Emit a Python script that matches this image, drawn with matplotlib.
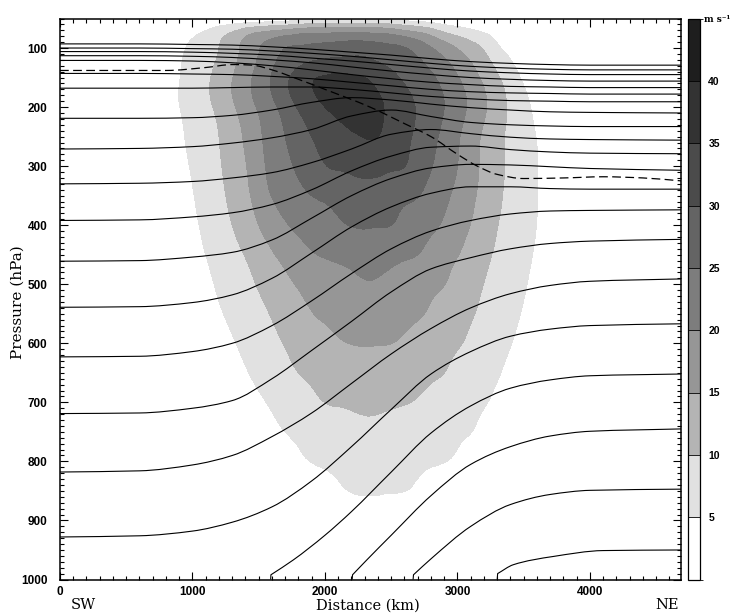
import numpy as np
import matplotlib
matplotlib.use("Agg")
import matplotlib.pyplot as plt
import matplotlib.tri as mtri
from matplotlib.path import Path
from matplotlib.patches import PathPatch
from matplotlib.colors import ListedColormap, BoundaryNorm
from matplotlib.ticker import MultipleLocator, FixedLocator

N = np.nan
# ---------------- wind speed (m s-1): contour crossings read along pressure rows -------------
pressure_rows = [50, 75, 100, 150, 200, 250, 300, 350, 400, 450, 500,
                 550, 600, 650, 700, 750, 800, 850, 900, 950, 1000]
peak_km = [2250, 2200, 2250, 2120, 2230, 2330, 2350, 2340, 2340, 2340, 2340,
           2340, 2340, 2340, 2340, 2340, 2340, 2340, 2340, 2340, 2340]
peak_speed = [4.2, 20.4, 27.9, 36.2, 39.0, 35.4, 31.7, 28.4, 25.4, 22.6, 19.95,
              17.7, 15.35, 13.2, 11.1, 9.1, 7.25, 5.4, 3.5, 2.0, 1.0]
left_5 = [N, 1065, 955, 910, 905, 945, 980, 1015, 1055, 1100, 1165,
          1235, 1330, 1425, 1550, 1700, 1875, 2150, N, N, N]
right_5 = [N, 3210, 3320, 3460, 3540, 3590, 3605, 3605, 3595, 3565, 3525,
           3475, 3410, 3330, 3235, 3115, 2935, 2640, N, N, N]
left_10 = [N, 1280, 1200, 1145, 1158, 1200, 1225, 1255, 1300, 1390, 1480,
           1580, 1680, 1800, 1990, N, N, N, N, N, N]
right_10 = [N, 2920, 3185, 3320, 3370, 3350, 3350, 3335, 3305, 3255, 3195,
            3130, 3040, 2900, 2660, N, N, N, N, N, N]
left_15 = [N, 1450, 1355, 1305, 1325, 1380, 1410, 1440, 1500, 1620, 1760,
           1910, 2150, N, N, N, N, N, N, N, N]
right_15 = [N, 2750, 2990, 3170, 3220, 3170, 3160, 3140, 3095, 3010, 2910,
            2760, 2520, N, N, N, N, N, N, N, N]
left_20 = [N, 1850, 1510, 1450, 1480, 1525, 1545, 1590, 1720, 1930, N,
           N, N, N, N, N, N, N, N, N, N]
right_20 = [N, 2450, 2810, 3010, 3070, 3020, 3000, 2950, 2870, 2700, N,
            N, N, N, N, N, N, N, N, N, N]
left_25 = [N, N, 1700, 1590, 1640, 1700, 1760, 1900, 2150, N, N,
           N, N, N, N, N, N, N, N, N, N]
right_25 = [N, N, 2630, 2840, 2900, 2860, 2810, 2720, 2500, N, N,
            N, N, N, N, N, N, N, N, N, N]
left_30 = [N, N, N, 1730, 1780, 1900, 2010, N, N, N, N,
           N, N, N, N, N, N, N, N, N, N]
right_30 = [N, N, N, 2560, 2680, 2660, 2610, N, N, N, N,
            N, N, N, N, N, N, N, N, N, N]
left_35 = [N, N, N, 1930, 2000, 2270, N, N, N, N, N,
           N, N, N, N, N, N, N, N, N, N]
right_35 = [N, N, N, 2300, 2450, 2400, N, N, N, N, N,
            N, N, N, N, N, N, N, N, N, N]

speed_levels = [0, 5, 10, 15, 20, 25, 30, 35, 40, 45]
speed_colors = ['#ffffff', '#e1e1e1', '#b4b4b4', '#969696', '#7d7d7d',
                '#646464', '#4b4b4b', '#333333', '#1e1e1e']

# ---------------- isentropes (pressure, hPa, at fixed distances) ----------------
iso_km = [0, 600, 1000, 1300, 1600, 1900, 2200, 2500, 2800, 3100, 3400, 3700, 4000, 4690]
iso_01 = [93, 93, 94, 95, 98, 102, 107, 112, 118, 123, 126, 128, 129, 129]
iso_02 = [100, 100, 101, 102, 105, 109, 114, 120, 126, 131, 134, 136, 137, 137]
iso_03 = [106, 106, 107, 109, 112, 117, 122, 128, 134, 139, 142, 144, 145, 145]
iso_04 = [113, 113, 114, 116, 120, 125, 132, 139, 145, 150, 153, 155, 156, 156]
iso_05 = [121, 121, 122, 125, 130, 137, 145, 152, 158, 162, 165, 166, 167, 167]
iso_06 = [143, 143, 144, 145, 148, 152, 158, 164, 170, 174, 176, 177, 178, 178]
iso_07 = [168, 168, 168, 167, 166, 166, 170, 176, 182, 186, 189, 190, 191, 191]
iso_08 = [219, 219, 218, 214, 205, 192, 184, 188, 195, 201, 205, 208, 209, 210]
iso_09 = [271, 270, 267, 261, 252, 238, 215, 205, 216, 226, 230, 232, 233, 233]
iso_10 = [330, 329, 326, 320, 311, 294, 271, 246, 238, 245, 251, 254, 255, 256]
iso_11 = [392, 391, 386, 379, 365, 340, 308, 283, 268, 266, 272, 276, 278, 279]
iso_12 = [461, 460, 454, 446, 425, 388, 350, 321, 303, 297, 298, 301, 304, 307]
iso_13 = [539, 538, 531, 518, 490, 447, 403, 369, 346, 335, 335, 338, 339, 339]
iso_14 = [623, 622, 614, 600, 570, 528, 482, 440, 410, 392, 381, 376, 375, 374]
iso_15 = [719, 718, 710, 697, 660, 612, 563, 513, 474, 455, 440, 431, 427, 424]
iso_16 = [818, 816, 806, 790, 758, 718, 668, 618, 575, 540, 516, 502, 495, 491]
iso_17 = [928, 926, 918, 903, 877, 833, 775, 712, 652, 614, 588, 576, 570, 567]
# isentropes that intersect the ground (first pair = short vertical stub at the ground)
iso_18_km = [1590, 1592, 1760, 2000, 2200, 2500, 2800, 3100, 3400, 3700, 4000, 4690]
iso_18_p = [1000, 992, 967, 925, 885, 818, 752, 706, 676, 662, 655, 652]
iso_19_km = [2205, 2208, 2315, 2500, 2800, 3100, 3400, 3700, 4000, 4690]
iso_19_p = [1000, 992, 967, 925, 858, 805, 775, 757, 749, 745]
iso_20_km = [2665, 2668, 2800, 3100, 3400, 3700, 4000, 4690]
iso_20_p = [1000, 992, 965, 910, 873, 856, 849, 847]
iso_21_km = [3300, 3303, 3421, 3723, 4100, 4690]
iso_21_p = [1000, 990, 975, 961, 951, 950]

# ---------------- dynamic tropopause (dashed) ----------------
trop_km = [0, 800, 1100, 1300, 1450, 1600, 1800, 2000, 2340, 2600, 2800, 3000,
           3150, 3300, 3500, 3800, 4100, 4400, 4690]
trop_p = [138, 138, 133, 128, 129, 137, 153, 170, 200, 228, 250, 280,
          300, 314, 321, 320, 318, 320, 325]

x_ticks = [0, 1000, 2000, 3000, 4000]
y_ticks = [100, 200, 300, 400, 500, 600, 700, 800, 900, 1000]
cbar_ticks = [5, 10, 15, 20, 25, 30, 35, 40]
x_max = 4690

# pixel scale of the axes (used for smoothing in screen-like space)
SX, SY = 0.1325, 0.59

# ---------------- build wind field from row crossings ----------------
x_nodes = np.append(np.arange(0, x_max, 100.0), x_max)
lefts = [left_5, left_10, left_15, left_20, left_25, left_30, left_35]
rights = [right_5, right_10, right_15, right_20, right_25, right_30, right_35]
lvls = [5, 10, 15, 20, 25, 30, 35]
Z = np.zeros((len(pressure_rows), x_nodes.size))
for i in range(len(pressure_rows)):
    xs, vs = [], []
    if np.isnan(left_5[i]):
        xs.append(peak_km[i] - 800); vs.append(0)
    else:
        xs.append(left_5[i] - 350); vs.append(0)
    for lv, L in zip(lvls, lefts):
        if not np.isnan(L[i]):
            xs.append(L[i]); vs.append(lv)
    xs.append(peak_km[i]); vs.append(peak_speed[i])
    for lv, R in zip(lvls[::-1], rights[::-1]):
        if not np.isnan(R[i]):
            xs.append(R[i]); vs.append(lv)
    if np.isnan(right_5[i]):
        xs.append(peak_km[i] + 800); vs.append(0)
    else:
        xs.append(right_5[i] + 350); vs.append(0)
    Z[i] = np.interp(x_nodes, xs, vs, left=0, right=0)

Xg, Pg = np.meshgrid(x_nodes, np.array(pressure_rows, float))
nr, nc = Xg.shape
tris = []
for r in range(nr - 1):
    for c in range(nc - 1):
        a = r * nc + c
        b, d, e = a + 1, a + nc, a + nc + 1
        tris.append([a, b, e])
        tris.append([a, e, d])
tri = mtri.Triangulation((Xg * SX).ravel(), (Pg * SY).ravel(), np.array(tris))
refiner = mtri.UniformTriRefiner(tri)
tri_f, z_f = refiner.refine_field(Z.ravel(), subdiv=3)
tri_plot = mtri.Triangulation(tri_f.x / SX, tri_f.y / SY, tri_f.triangles)


def smooth_path(xk, pk, stub=False):
    """Cubic Hermite (monotone slopes) drawn as Bezier segments through the read points.
    With stub=True the first segment (ground stub) is drawn straight."""
    x = np.asarray(xk, float) * SX
    y = np.asarray(pk, float) * SY
    verts = [(x[0], y[0])]
    codes = [Path.MOVETO]
    if stub:
        verts.append((x[1], y[1]))
        codes.append(Path.LINETO)
        x, y = x[1:], y[1:]
    h = np.diff(x)
    d = np.diff(y) / h
    m = np.zeros_like(x)
    m[0], m[-1] = d[0], d[-1]
    for k in range(1, len(x) - 1):
        if d[k - 1] * d[k] > 0:
            w1 = 2 * h[k] + h[k - 1]
            w2 = h[k] + 2 * h[k - 1]
            m[k] = (w1 + w2) / (w1 / d[k - 1] + w2 / d[k])
        else:
            m[k] = 0.0
    for k in range(len(x) - 1):
        verts += [(x[k] + h[k] / 3, y[k] + m[k] * h[k] / 3),
                  (x[k + 1] - h[k] / 3, y[k + 1] - m[k + 1] * h[k] / 3),
                  (x[k + 1], y[k + 1])]
        codes += [Path.CURVE4] * 3
    verts = np.array(verts)
    verts[:, 0] /= SX
    verts[:, 1] /= SY
    return Path(verts, codes)


# ---------------- figure ----------------
W, H = 733, 614
fig = plt.figure(figsize=(W / 100, H / 100), dpi=100)
ax = fig.add_axes([60 / W, 1 - 579.5 / H, (681.4 - 60) / W, (579.5 - 18.5) / H])

cmap = ListedColormap(speed_colors)
norm = BoundaryNorm(speed_levels, cmap.N)
cf = ax.tricontourf(tri_plot, np.clip(z_f, 0, 44.9), levels=speed_levels, cmap=cmap, norm=norm)

lw = 0.8
for line in [iso_01, iso_02, iso_03, iso_04, iso_05, iso_06, iso_07, iso_08, iso_09,
             iso_10, iso_11, iso_12, iso_13, iso_14, iso_15, iso_16, iso_17]:
    ax.add_patch(PathPatch(smooth_path(iso_km, line), facecolor='none',
                           edgecolor='black', lw=lw))
for kx, pp in [(iso_18_km, iso_18_p), (iso_19_km, iso_19_p),
               (iso_20_km, iso_20_p), (iso_21_km, iso_21_p)]:
    ax.add_patch(PathPatch(smooth_path(kx, pp, stub=True), facecolor='none',
                           edgecolor='black', lw=lw))
ax.add_patch(PathPatch(smooth_path(trop_km, trop_p), facecolor='none', edgecolor='black',
                       lw=0.9, linestyle=(0, (7, 3.5))))

ax.set_xlim(0, x_max)
ax.set_ylim(1000, 50)
ax.xaxis.set_major_locator(FixedLocator(x_ticks))
ax.xaxis.set_minor_locator(MultipleLocator(100))
ax.yaxis.set_major_locator(FixedLocator(y_ticks))
ax.yaxis.set_minor_locator(MultipleLocator(10))
ax.tick_params(which='both', direction='in', top=True, right=True, width=0.8, color='black')
ax.tick_params(which='major', length=6)
ax.tick_params(which='minor', length=3)
ax.tick_params(axis='x', which='major', pad=5)
ax.tick_params(axis='y', which='major', pad=9)
for lab in ax.get_xticklabels() + ax.get_yticklabels():
    lab.set_fontfamily('Liberation Sans')
    lab.set_fontweight('bold')
    lab.set_fontsize(8.5)
for s in ax.spines.values():
    s.set_linewidth(1.1)

fig.text(18 / W, 1 - 302 / H, 'Pressure (hPa)', family='DejaVu Serif', fontsize=11,
         rotation=90, ha='center', va='center')
fig.text(368 / W, 1 - 606 / H, 'Distance (km)', family='DejaVu Serif', fontsize=10.5,
         ha='center', va='center')
fig.text(83 / W, 1 - 605 / H, 'SW', family='DejaVu Serif', fontsize=10.5,
         ha='center', va='center')
fig.text(667 / W, 1 - 605 / H, 'NE', family='DejaVu Serif', fontsize=10.5,
         ha='center', va='center')

cax = fig.add_axes([688 / W, 1 - 579.5 / H, 12 / W, (579.5 - 18.5) / H])
cb = fig.colorbar(cf, cax=cax, ticks=cbar_ticks, drawedges=True)
cb.outline.set_linewidth(0.9)
cb.dividers.set_linewidth(0.6)
cax.tick_params(length=0, pad=6)
for lab in cax.get_yticklabels():
    lab.set_fontfamily('Liberation Sans')
    lab.set_fontweight('bold')
    lab.set_fontsize(7.5)
fig.text(704 / W, 1 - 19 / H, 'm s\u207b\u00b9', family='DejaVu Serif', fontweight='bold',
         fontsize=6.5, ha='left', va='center')

fig.savefig('out.png', dpi=100)
